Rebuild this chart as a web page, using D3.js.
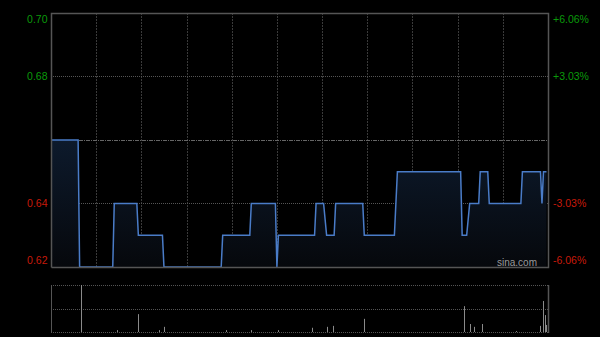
<!DOCTYPE html>
<html><head><meta charset="utf-8">
<script src="https://cdn.jsdelivr.net/npm/d3@7/dist/d3.min.js"></script>
<style>html,body{margin:0;padding:0;background:#000;}svg{display:block;}</style>
</head><body>
<script>
// Price data: change points (minute index from open, price)
const minutes = [0,18,19,41,42,57,58,74,75,113,114,132,133,149,150,151,175,176,181,183,188,189,207,208,228,230,272,273,276,278,284,285,290,291,312,313,325,326,327,329];
const prices  = [0.66,0.66,0.62,0.62,0.64,0.64,0.63,0.63,0.62,0.62,0.63,0.63,0.64,0.64,0.62,0.63,0.63,0.64,0.64,0.63,0.63,0.64,0.64,0.63,0.63,0.65,0.65,0.63,0.63,0.64,0.64,0.65,0.65,0.64,0.64,0.65,0.65,0.64,0.65,0.65];
// Volume data (relative units)
const volMinutes = [20,44,58,72,75,116,133,151,173,183,187,208,274,278,281,286,309,325,327,328,329];
const volumes    = [100,4,38,4,11,4,4,4,9,11,13,28,55,17,11,17,2,13,66,36,15];
const prevClose = 0.66;
const leftTicks = [0.70,0.68,0.64,0.62];
const leftLabels = ["0.70","0.68","0.64","0.62"];
const rightLabels = ["+6.06%","+3.03%","-3.03%","-6.06%"];

const W=600,H=337;
const L=51,R=548,T=13,B=267;
const VT=285,VB=332;
const svg=d3.select("body").append("svg").attr("width",W).attr("height",H).style("background","#000");

const x=d3.scaleLinear().domain([0,330]).range([L,R]);
const y=d3.scaleLinear().domain([0.62,0.70]).range([B,T]);
const yv=d3.scaleLinear().domain([0,d3.max(volumes)]).range([VB,VT]);

const defs=svg.append("defs");
const g=defs.append("linearGradient").attr("id","fillg").attr("x1",0).attr("y1",0).attr("x2",0).attr("y2",1);
g.append("stop").attr("offset","0%").attr("stop-color","#0d1a2c");
g.append("stop").attr("offset","100%").attr("stop-color","#06080c");

// vertical grid
const vlines=d3.range(1,11).map(i=>i*30);
svg.append("g").selectAll("line").data(vlines).join("line")
  .attr("x1",d=>Math.round(x(d))+0.5).attr("x2",d=>Math.round(x(d))+0.5)
  .attr("y1",T).attr("y2",B)
  .attr("stroke","#3a3a3a").attr("stroke-dasharray","2,1");
// horizontal grid
svg.append("g").selectAll("line").data([0.68,0.64]).join("line")
  .attr("x1",L).attr("x2",R).attr("y1",d=>Math.round(y(d))+0.5).attr("y2",d=>Math.round(y(d))+0.5)
  .attr("stroke","#555").attr("stroke-dasharray","1,1");
svg.append("line").attr("x1",L).attr("x2",R)
  .attr("y1",Math.round(y(prevClose))+0.5).attr("y2",Math.round(y(prevClose))+0.5)
  .attr("stroke","#666").attr("stroke-dasharray","4,1,1,1");

const pts=minutes.map((m,i)=>[m,prices[i]]);
svg.append("path").datum(pts)
  .attr("d",d3.area().x(d=>x(d[0])).y0(B).y1(d=>y(d[1])))
  .attr("fill","url(#fillg)");
svg.append("path").datum(pts)
  .attr("d",d3.line().x(d=>x(d[0])).y(d=>y(d[1])))
  .attr("fill","none").attr("stroke","#4a7cc8").attr("stroke-width",1.5);

// border price panel
svg.append("path").attr("d",`M${L+0.5},${B+0.5}V${T+0.5}H${R+0.5}V${B+0.5}H${L+0.5}`)
  .attr("fill","none").attr("stroke","#555").attr("stroke-width",1.5);

// labels
const lab=svg.append("g").style("font-family","Arial, 'Liberation Sans', sans-serif").style("font-size","10.5px");
const labY=d=>{const v=y(d); return v<T+5?T+6:(v>B-5?B-7:v);};
lab.selectAll("text.l").data(leftTicks).join("text").attr("class","l")
  .attr("x",47.5).attr("y",d=>labY(d)).attr("dy","0.36em").attr("text-anchor","end")
  .attr("fill",d=>d>prevClose?"#0a9a0a":"#c81a0a").text((d,i)=>leftLabels[i]);
lab.selectAll("text.r").data(leftTicks).join("text").attr("class","r")
  .attr("x",553).attr("y",d=>labY(d)).attr("dy","0.36em").attr("text-anchor","start")
  .attr("fill",d=>d>prevClose?"#0a9a0a":"#c81a0a").text((d,i)=>rightLabels[i]);

svg.append("text").attr("x",537).attr("y",262).attr("dy","0.36em").attr("text-anchor","end")
  .style("font-family","Arial, 'Liberation Sans', sans-serif").style("font-size","10px")
  .attr("fill","#9a9a9a").text("sina.com");

// volume panel
svg.append("g").selectAll("line").data([VT,(VT+VB)/2,VB]).join("line")
  .attr("x1",L).attr("x2",R).attr("y1",d=>Math.round(d)+0.5).attr("y2",d=>Math.round(d)+0.5)
  .attr("stroke","#555").attr("stroke-dasharray","1,1");
svg.append("line").attr("x1",L+0.5).attr("x2",L+0.5).attr("y1",VT).attr("y2",VB+1).attr("stroke","#555");
svg.append("line").attr("x1",R+0.5).attr("x2",R+0.5).attr("y1",VT).attr("y2",VB+1).attr("stroke","#555").attr("stroke-width",1.5);
svg.append("g").selectAll("line").data(volMinutes.map((m,i)=>[m,volumes[i]])).join("line")
  .attr("x1",d=>Math.round(x(d[0]))+0.5).attr("x2",d=>Math.round(x(d[0]))+0.5)
  .attr("y1",VB).attr("y2",d=>yv(d[1]))
  .attr("stroke","#8a8a8a").attr("stroke-width",1);
</script>
</body></html>
